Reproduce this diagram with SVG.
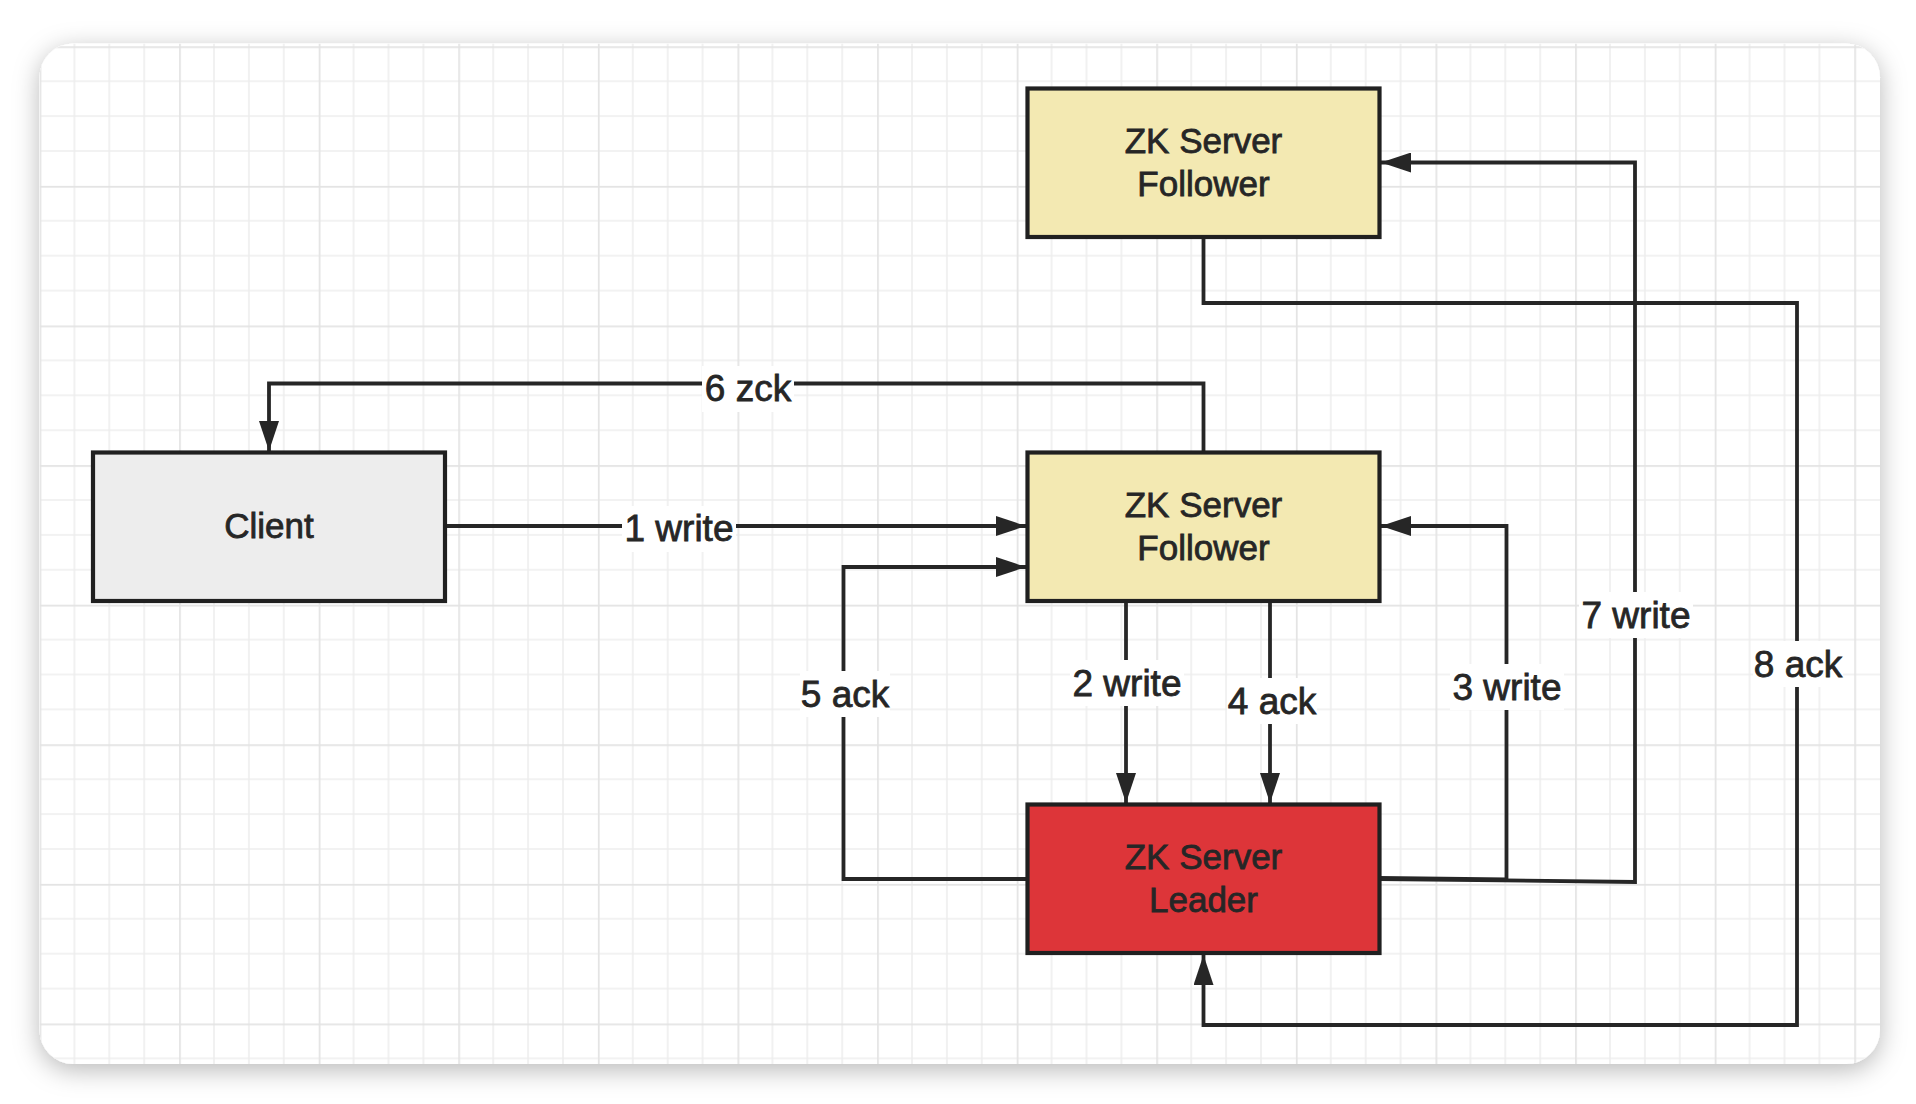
<svg xmlns="http://www.w3.org/2000/svg" width="1916" height="1104" viewBox="0 0 1916 1104">
<style>
.box{stroke:#202020;stroke-width:4.2}
.fol{fill:#f3e9b2}
.lead{fill:#dd3539}
.cli{fill:#ededed}
.t{font-family:"Liberation Sans",Arial,sans-serif;font-size:35px;fill:#262626;stroke:#262626;stroke-width:0.8;text-anchor:middle}
.lbl{font-family:"Liberation Sans",Arial,sans-serif;font-size:37px;fill:#262626;stroke:#262626;stroke-width:0.8;text-anchor:middle}
.bg{fill:#ffffff}
.c{fill:none;stroke:#262626;stroke-width:3.8;stroke-linejoin:miter}
</style>
<defs>
<pattern id="grid" patternUnits="userSpaceOnUse" x="39.5" y="46.3" width="139.6" height="139.6">
<path d="M34.9,0V139.6M69.8,0V139.6M104.7,0V139.6M0,34.9H139.6M0,69.8H139.6M0,104.7H139.6" stroke="#eeeeee" stroke-width="1.6" fill="none"/>
<path d="M0.8,0V139.6M0,0.8H139.6" stroke="#e3e3e3" stroke-width="1.8" fill="none"/>
</pattern>
<filter id="sh" x="-10%" y="-10%" width="120%" height="125%">
<feDropShadow dx="0" dy="6" stdDeviation="13" flood-color="#000" flood-opacity="0.28"/>
</filter>
<clipPath id="card"><rect x="39.5" y="43.5" width="1840.5" height="1020.5" rx="34"/></clipPath>
<marker id="ah" markerUnits="userSpaceOnUse" markerWidth="30" markerHeight="20" refX="30" refY="10" orient="auto">
<path d="M0,0L30,10L0,20Z" fill="#262626"/>
</marker>
</defs>
<rect width="1916" height="1104" fill="#ffffff"/>
<rect x="39.5" y="43.5" width="1840.5" height="1020.5" rx="34" fill="#ffffff" filter="url(#sh)"/>
<rect x="39.5" y="43.5" width="1840.5" height="1020.5" fill="url(#grid)" clip-path="url(#card)"/>

<g id="connectors">
<path class="c" d="M445,526H1026" marker-end="url(#ah)"/>
<path class="c" d="M1203.5,452V383.5H269V451" marker-end="url(#ah)"/>
<path class="c" d="M1027,879H843.5V567H1026" marker-end="url(#ah)"/>
<path class="c" d="M1126,601V803" marker-end="url(#ah)"/>
<path class="c" d="M1270,601V803" marker-end="url(#ah)"/>
<path class="c" d="M1379.5,878L1506.5,879.5V526H1381" marker-end="url(#ah)"/>
<path class="c" d="M1379.5,879L1635,882V162.5H1381" marker-end="url(#ah)"/>
<path class="c" d="M1203.5,237V303H1797V1025H1203.5V955" marker-end="url(#ah)"/>
<g id="labels">
<rect class="bg" x="622" y="506" width="114" height="46"/><text class="lbl" x="679" y="541">1 write</text>
<rect class="bg" x="702" y="366" width="92" height="46"/><text class="lbl" x="748" y="401">6 zck</text>
<rect class="bg" x="800" y="671" width="90" height="46"/><text class="lbl" x="845" y="707">5 ack</text>
<rect class="bg" x="1070" y="660" width="114" height="46"/><text class="lbl" x="1127" y="696">2 write</text>
<rect class="bg" x="1227" y="678" width="90" height="46"/><text class="lbl" x="1272" y="714">4 ack</text>
<rect class="bg" x="1450" y="664" width="114" height="46"/><text class="lbl" x="1507" y="700">3 write</text>
<rect class="bg" x="1579" y="592" width="114" height="46"/><text class="lbl" x="1636" y="628">7 write</text>
<rect class="bg" x="1753" y="641" width="90" height="46"/><text class="lbl" x="1798" y="677">8 ack</text>
</g>
</g>

<g id="follower-top">
<rect class="box fol" x="1027.5" y="88.5" width="352" height="148.5"/>
<text class="t" x="1203.5" y="153">ZK Server</text>
<text class="t" x="1203.5" y="196">Follower</text>
</g>
<g id="follower-mid">
<rect class="box fol" x="1027.5" y="452.5" width="352" height="148.5"/>
<text class="t" x="1203.5" y="517">ZK Server</text>
<text class="t" x="1203.5" y="560">Follower</text>
</g>
<g id="leader">
<rect class="box lead" x="1027.5" y="804.5" width="352" height="148.5"/>
<text class="t" x="1203.5" y="869">ZK Server</text>
<text class="t" x="1203.5" y="912">Leader</text>
</g>
<g id="client">
<rect class="box cli" x="93" y="452.5" width="352" height="148.5"/>
<text class="t" x="269" y="538">Client</text>
</g>
</svg>
